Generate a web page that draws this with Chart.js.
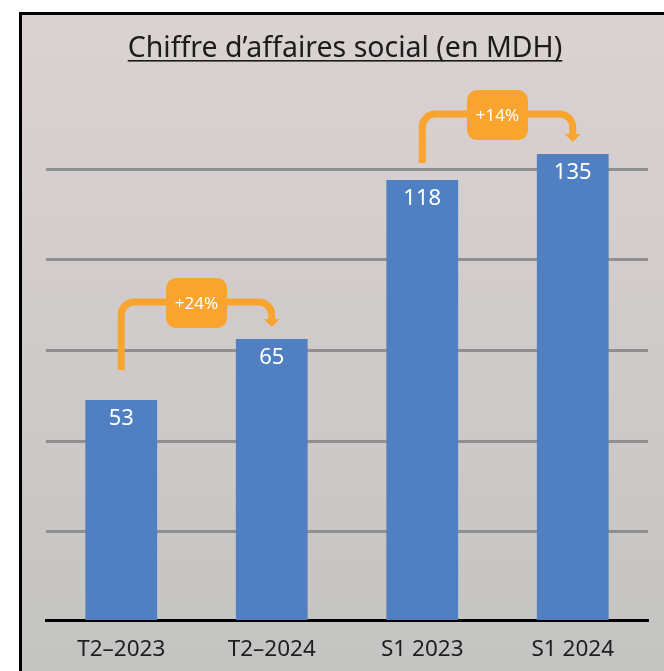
<!DOCTYPE html>
<html>
<head>
<meta charset="utf-8">
<script src="https://cdn.jsdelivr.net/npm/chart.js@4"></script>
<style>
  html, body { margin: 0; padding: 0; background: #fff; }
  #wrap { position: relative; width: 664px; height: 671px; }
</style>
</head>
<body>
<div id="wrap"><canvas id="c" width="664" height="671"></canvas></div>
<script>
// ---- data ----
const categories = ['T2–2023', 'T2–2024', 'S1 2023', 'S1 2024'];
const t2Values = [53, 65, null, null];
const s1Values = [null, null, 118, 135];
const growthLabels = ['+24%', '+14%'];
const growthPairs = [[0, 1], [2, 3]];
const chartTitle = 'Chiffre d’affaires social (en MDH)';

// ---- style ----
const FONT = '"Noto Sans", "Open Sans", sans-serif';
const BAR = '#5080c2';
const ORANGE = '#f9a42e';
const connectorStyle = [{ lift: 37, startGap: 30 }, { lift: 40, startGap: 17 }];

function barFor(chart, i) {
  for (let d = 0; d < chart.data.datasets.length; d++) {
    const v = chart.data.datasets[d].data[i];
    if (v !== null && v !== undefined) return { el: chart.getDatasetMeta(d).data[i], v };
  }
  return null;
}

const framePlugin = {
  id: 'frame',
  beforeDraw(chart) {
    const { ctx, width, height } = chart;
    ctx.save();
    ctx.fillStyle = '#fff';
    ctx.fillRect(0, 0, width, height);
    ctx.fillStyle = '#000';
    ctx.fillRect(19, 12, width - 19, height - 12);
    const g = ctx.createLinearGradient(0, 15, 0, height);
    g.addColorStop(0, '#dbd2d2');
    g.addColorStop(1, '#c4c4c2');
    ctx.fillStyle = g;
    ctx.fillRect(22, 15, width - 22, height - 15);
    // title
    ctx.font = '28.5px ' + FONT;
    ctx.fillStyle = '#1c1c1c';
    ctx.textAlign = 'center';
    ctx.textBaseline = 'alphabetic';
    const tx = 345, ty = 57;
    ctx.fillText(chartTitle, tx, ty);
    const w = ctx.measureText(chartTitle).width;
    ctx.fillRect(tx - w / 2, ty + 3, w, 1.6);
    ctx.restore();
  }
};

const overlayPlugin = {
  id: 'overlay',
  afterDatasetsDraw(chart) {
    const { ctx } = chart;
    ctx.save();
    // value labels
    ctx.font = '22px ' + FONT;
    ctx.fillStyle = '#fff';
    ctx.textAlign = 'center';
    ctx.textBaseline = 'middle';
    categories.forEach((c, i) => {
      const b = barFor(chart, i);
      if (b) ctx.fillText(String(b.v), b.el.x, b.el.y + 19);
    });
    // connectors
    growthPairs.forEach((pair, k) => {
      const a = barFor(chart, pair[0]).el;
      const b = barFor(chart, pair[1]).el;
      const st = connectorStyle[k];
      const x1 = a.x, x2 = b.x;
      const yH = b.y - st.lift;
      const yStart = a.y - st.startGap;
      const yTip = b.y - 12;
      const r = 13;
      ctx.strokeStyle = ORANGE;
      ctx.lineWidth = 7;
      ctx.lineCap = 'butt';
      ctx.lineJoin = 'round';
      ctx.beginPath();
      ctx.moveTo(x1, yStart);
      ctx.lineTo(x1, yH + r);
      ctx.arcTo(x1, yH, x1 + r, yH, r);
      ctx.lineTo(x2 - r, yH);
      ctx.arcTo(x2, yH, x2, yH + r, r);
      ctx.lineTo(x2, yTip - 7);
      ctx.stroke();
      ctx.fillStyle = ORANGE;
      ctx.beginPath();
      ctx.moveTo(x2 - 8, yTip - 8);
      ctx.lineTo(x2 + 8, yTip - 8);
      ctx.lineTo(x2, yTip);
      ctx.closePath();
      ctx.fill();
      // box
      const cx = (x1 + x2) / 2, cy = yH + 1;
      const bw = 61, bh = 50;
      ctx.beginPath();
      ctx.roundRect(cx - bw / 2, cy - bh / 2, bw, bh, 10);
      ctx.fill();
      ctx.fillStyle = '#fff';
      ctx.font = '17px ' + FONT;
      ctx.textAlign = 'center';
      ctx.textBaseline = 'middle';
      ctx.fillText(growthLabels[k], cx, cy + 1);
    });
    ctx.restore();
  }
};

new Chart(document.getElementById('c'), {
  type: 'bar',
  data: {
    labels: categories,
    datasets: [
      { data: t2Values, yAxisID: 'yT', backgroundColor: BAR },
      { data: s1Values, yAxisID: 'yS', backgroundColor: BAR, base: -169.7 }
    ]
  },
  options: {
    responsive: false,
    animation: false,
    devicePixelRatio: 1,
    layout: { padding: { left: 46, right: 16, top: 122, bottom: 0 } },
    datasets: { bar: { grouped: false, categoryPercentage: 1, barPercentage: 0.477 } },
    plugins: { legend: { display: false }, tooltip: { enabled: false }, title: { display: false } },
    scales: {
      x: {
        grid: { display: true, color: 'rgba(0,0,0,0)', drawTicks: false },
        border: { display: true, color: '#000', width: 3 },
        ticks: { color: '#1e1e1e', font: { family: FONT, size: 22.5 }, padding: 16 },
        afterFit: s => { s.height = 51; }
      },
      g: {
        type: 'linear', position: 'left', min: 0.03, max: 5.518,
        afterBuildTicks: s => { s.ticks = [1, 2, 3, 4, 5].map(v => ({ value: v })); },
        ticks: { display: false },
        border: { display: false },
        grid: { color: '#8f8f8f', lineWidth: 3, drawTicks: false },
        afterFit: s => { s.width = 0; }
      },
      yT: { type: 'linear', display: false, min: 9.7, max: 107.7 },
      yS: { type: 'linear', display: false, min: -169.7, max: 156 }
    }
  },
  plugins: [framePlugin, overlayPlugin]
});
</script>
</body>
</html>
